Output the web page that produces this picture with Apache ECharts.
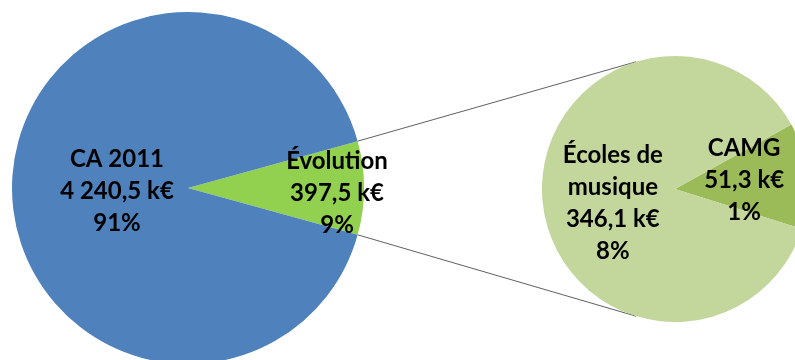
<!DOCTYPE html>
<html>
<head>
<meta charset="utf-8">
<script src="https://cdn.jsdelivr.net/npm/echarts@6/dist/echarts.min.js"></script>
<style>
  html, body { margin: 0; padding: 0; background: #fff; }
  #chart { width: 795px; height: 360px; }
</style>
</head>
<body>
<div id="chart"></div>
<script>
// Main pie: total revenue split
const mainNames = ['Évolution', 'CA 2011'];
const mainValues = [397.5, 4240.5];
const mainPct = ['9%', '91%'];

// Secondary pie: breakdown of the "Évolution" slice
const subNames = ['CAMG', 'Écoles de\nmusique'];
const subValues = [51.3, 346.1];
const subPct = ['1%', '8%'];

// Layout
const mainCenter = [188, 188], mainRadius = 176;
const subCenter = [675, 189], subRadius = 133;
const subStart = 29;          // degrees, where the CAMG slice begins
const connectorAngle = 107;   // degrees, where connectors meet the secondary pie

function fmtK(v) {
  const parts = v.toFixed(1).split('.');
  const int = parts[0].replace(/\B(?=(\d{3})+(?!\d))/g, ' ');
  return int + ',' + parts[1] + ' k€';
}

const mainColors = ['#92D050', '#4F81BD'];
const subColors = ['#9BBB59', '#C3D69B'];
const mainOffsets = [[58, 5], [20, 3]];
const subOffsets = [[0, -2], [7, 7]];

const labelBase = {
  show: true,
  position: 'inside',
  color: '#000',
  fontFamily: 'Lato',
  fontWeight: 'bold',
  fontSize: 24,
  lineHeight: 32
};

function buildData(names, values, pcts, colors, offsets) {
  return names.map((n, i) => ({
    name: n,
    value: values[i],
    itemStyle: { color: colors[i] },
    label: Object.assign({}, labelBase, {
      offset: offsets[i],
      formatter: n + '\n' + fmtK(values[i]) + '\n' + pcts[i]
    })
  }));
}

const mainTotal = mainValues.reduce((a, b) => a + b, 0);
const mainStart = mainValues[0] / mainTotal * 180;

// Connector endpoints derived from the pies' geometry
const rad = Math.PI / 180;
const pA = [mainCenter[0] + mainRadius * Math.cos(mainStart * rad), mainCenter[1] - mainRadius * Math.sin(mainStart * rad)];
const pB = [mainCenter[0] + mainRadius * Math.cos(mainStart * rad), mainCenter[1] + mainRadius * Math.sin(mainStart * rad)];
const qA = [subCenter[0] + subRadius * Math.cos(connectorAngle * rad), subCenter[1] - subRadius * Math.sin(connectorAngle * rad)];
const qB = [subCenter[0] + subRadius * Math.cos(connectorAngle * rad), subCenter[1] + subRadius * Math.sin(connectorAngle * rad)];

const chart = echarts.init(document.getElementById('chart'));
chart.setOption({
  animation: false,
  backgroundColor: '#fff',
  graphic: [
    { type: 'line', z: 1, shape: { x1: pA[0], y1: pA[1], x2: qA[0], y2: qA[1] }, style: { stroke: '#606060', lineWidth: 1 } },
    { type: 'line', z: 1, shape: { x1: pB[0], y1: pB[1], x2: qB[0], y2: qB[1] }, style: { stroke: '#606060', lineWidth: 1 } }
  ],
  series: [
    {
      type: 'pie',
      center: mainCenter,
      radius: mainRadius,
      startAngle: mainStart,
      clockwise: true,
      avoidLabelOverlap: false,
      emphasis: { disabled: true },
      labelLine: { show: false },
      itemStyle: { borderWidth: 0 },
      data: buildData(mainNames, mainValues, mainPct, mainColors, mainOffsets)
    },
    {
      type: 'pie',
      center: subCenter,
      radius: subRadius,
      startAngle: subStart,
      clockwise: true,
      avoidLabelOverlap: false,
      emphasis: { disabled: true },
      labelLine: { show: false },
      itemStyle: { borderWidth: 0 },
      data: buildData(subNames, subValues, subPct, subColors, subOffsets)
    }
  ]
});
</script>
</body>
</html>
